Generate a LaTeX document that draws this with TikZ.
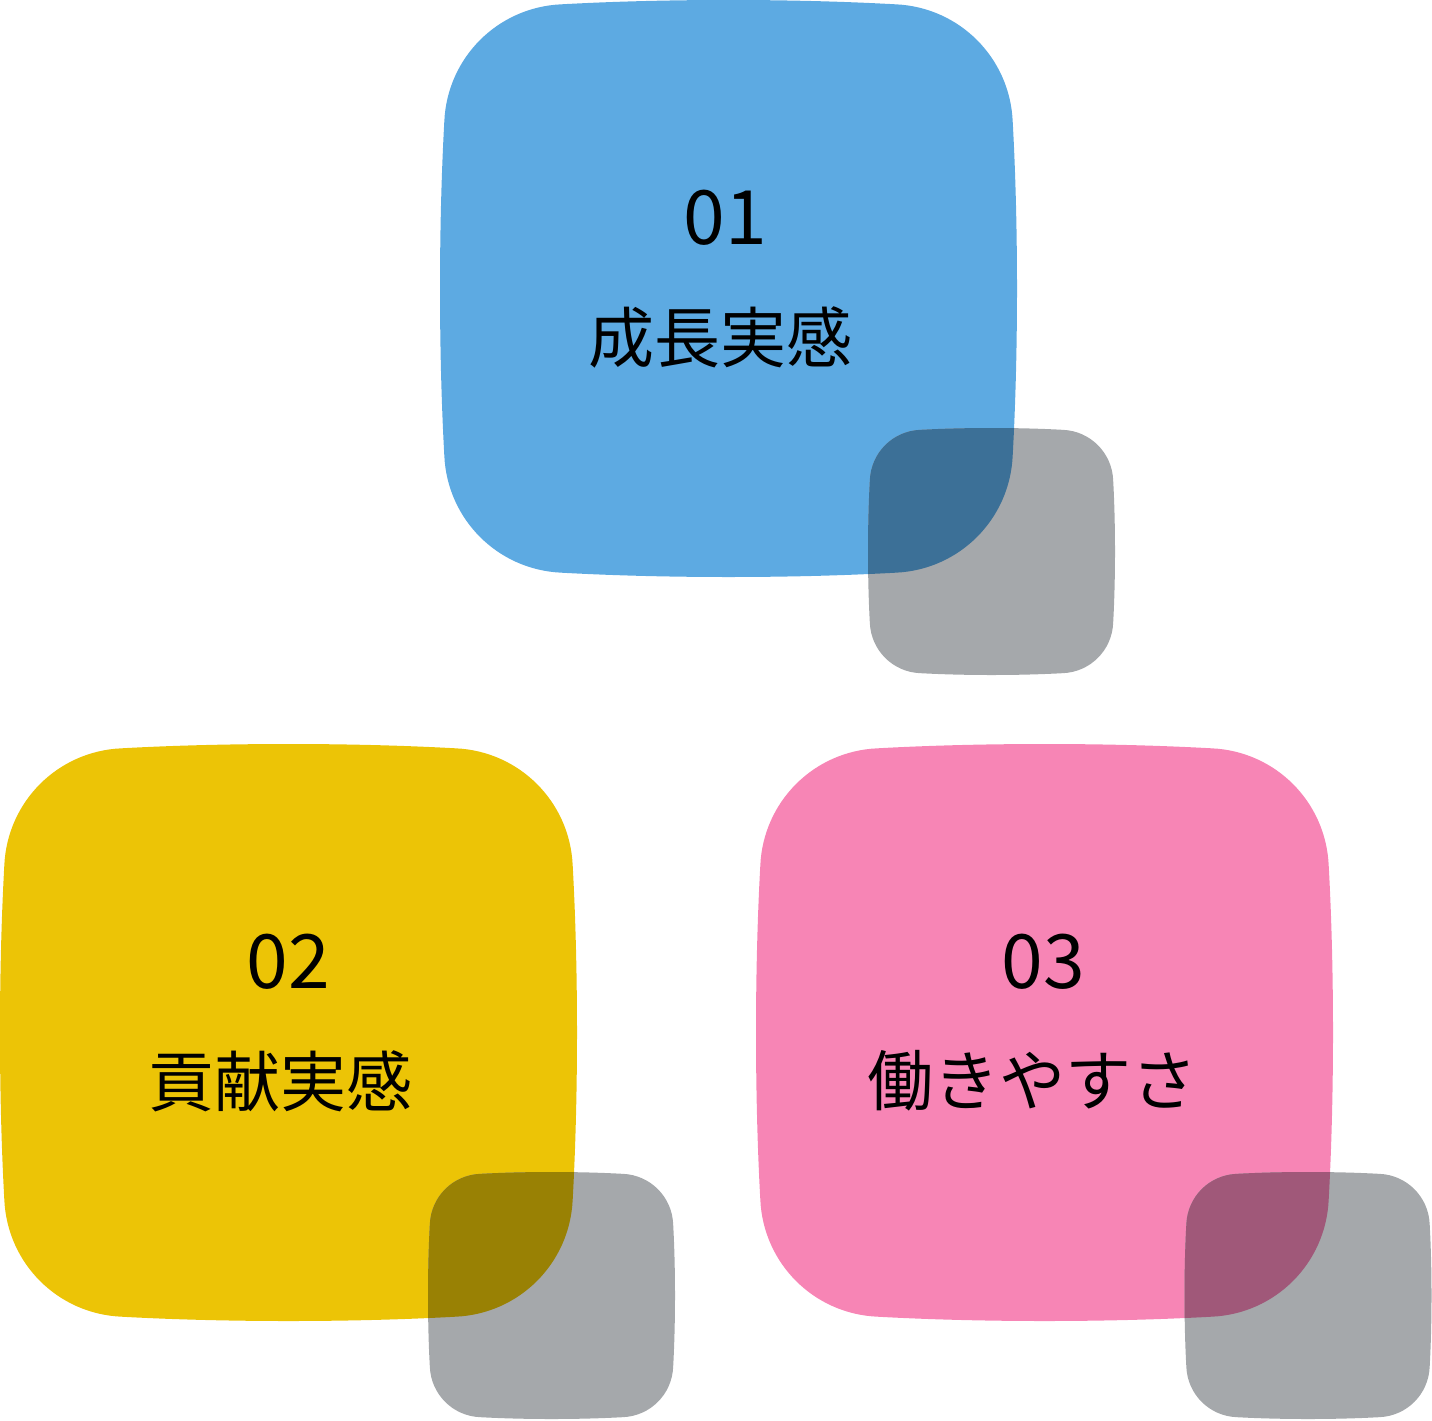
\documentclass[tikz,border=0pt]{standalone}
\usepackage{fontspec}
\setmainfont{Noto Sans CJK JP}
\usepackage{tikz}

\definecolor{tileblue}{HTML}{5DAAE2}
\definecolor{tileyellow}{HTML}{ECC406}
\definecolor{tilepink}{HTML}{F785B5}
\definecolor{tilegray}{HTML}{A5A8AB}
\definecolor{mixblue}{HTML}{3C7097}
\definecolor{mixyellow}{HTML}{998104}
\definecolor{mixpink}{HTML}{A05879}

\begin{document}
\begin{tikzpicture}[
x=1pt, y=-1pt,
blob/.style={insert path={(0,1) .. controls (-0.2,1) and (-0.4,0.995) .. (-0.58,0.985)
 .. controls (-0.8,0.975) and (-0.975,0.8) .. (-0.985,0.58)
 .. controls (-0.995,0.4) and (-1,0.2) .. (-1,0)
 .. controls (-1,-0.2) and (-0.995,-0.4) .. (-0.985,-0.58)
 .. controls (-0.975,-0.8) and (-0.8,-0.975) .. (-0.58,-0.985)
 .. controls (-0.4,-0.995) and (-0.2,-1) .. (0,-1)
 .. controls (0.2,-1) and (0.4,-0.995) .. (0.58,-0.985)
 .. controls (0.8,-0.975) and (0.975,-0.8) .. (0.985,-0.58)
 .. controls (0.995,-0.4) and (1,-0.2) .. (1,0)
 .. controls (1,0.2) and (0.995,0.4) .. (0.985,0.58)
 .. controls (0.975,0.8) and (0.8,0.975) .. (0.58,0.985)
 .. controls (0.4,0.995) and (0.2,1) .. (0,1) -- cycle}},
num/.style={inner sep=0pt, font=\fontsize{75}{80}\selectfont},
word/.style={inner sep=0pt, font=\fontsize{66}{70}\selectfont}
]
\useasboundingbox (0,0) rectangle (1432,1421);

% 01
\fill[tileblue, shift={(728.5,288.5)}, scale=288.5, blob];
\fill[tilegray, shift={(991.5,551.5)}, scale=123.5, blob];
\begin{scope}
\clip[shift={(728.5,288.5)}, scale=288.5, blob];
\fill[mixblue, shift={(991.5,551.5)}, scale=123.5, blob];
\end{scope}
\node[num] (n01) at (725,218) {01};
\node[word] (t01) at (720,337) {成長実感};

% 02
\fill[tileyellow, shift={(288.5,1032.5)}, scale=288.5, blob];
\fill[tilegray, shift={(551.5,1295.5)}, scale=123.5, blob];
\begin{scope}
\clip[shift={(288.5,1032.5)}, scale=288.5, blob];
\fill[mixyellow, shift={(551.5,1295.5)}, scale=123.5, blob];
\end{scope}
\node[num] (n02) at (288,962) {02};
\node[word] (t02) at (280,1081) {貢献実感};

% 03
\fill[tilepink, shift={(1044.5,1032.5)}, scale=288.5, blob];
\fill[tilegray, shift={(1308,1295.5)}, scale=123.5, blob];
\begin{scope}
\clip[shift={(1044.5,1032.5)}, scale=288.5, blob];
\fill[mixpink, shift={(1308,1295.5)}, scale=123.5, blob];
\end{scope}
\node[num] (n03) at (1043,962) {03};
\node[word] (t03) at (1032,1081) {働きやすさ};

\end{tikzpicture}
\end{document}
